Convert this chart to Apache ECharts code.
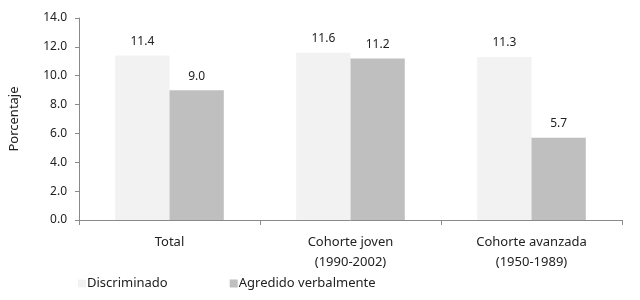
<!DOCTYPE html>
<html><head><meta charset="utf-8">
<script src="https://cdn.jsdelivr.net/npm/echarts@6/dist/echarts.min.js"></script>
<style>html,body{margin:0;padding:0;background:#fff}#c{width:640px;height:300px}</style>
</head><body><div id="c"></div>
<script>
var categories = ['Total', 'Cohorte joven\n(1990-2002)', 'Cohorte avanzada\n(1950-1989)'];
var discriminado = [11.4, 11.6, 11.3];
var agredido = [9.0, 11.2, 5.7];
var seriesNames = ['Discriminado', 'Agredido verbalmente'];
var FONT = 'Noto Sans';
var chart = echarts.init(document.getElementById('c'));
var lbl = {show: true, position: 'top', distance: 8, color: '#222', fontFamily: FONT, fontSize: 12,
  formatter: function(p){ return p.value.toFixed(1); }};
chart.setOption({
  animation: false,
  textStyle: {fontFamily: FONT},
  grid: {left: 76, right: 18, top: 18, bottom: 80},
  legend: {
    bottom: 5, left: 73, itemWidth: 8, itemHeight: 8, itemGap: 62, icon: 'rect',
    textStyle: {fontFamily: FONT, fontSize: 13, color: '#222', padding: [0,0,0,-4]},
    data: seriesNames
  },
  xAxis: {
    type: 'category', data: categories,
    axisLine: {lineStyle: {color: '#8a8a8a'}},
    axisTick: {show: true, length: 5, lineStyle: {color: '#8a8a8a'}},
    axisLabel: {color: '#222', fontFamily: FONT, fontSize: 13, lineHeight: 20, margin: 12}
  },
  yAxis: {
    type: 'value', min: 0, max: 14, interval: 2,
    name: 'Porcentaje', nameLocation: 'middle', nameGap: 58, nameRotate: 90,
    nameTextStyle: {color: '#222', fontFamily: FONT, fontSize: 13},
    axisLine: {show: true, lineStyle: {color: '#8a8a8a'}},
    axisTick: {show: true, length: 4, lineStyle: {color: '#8a8a8a'}},
    splitLine: {show: false},
    axisLabel: {color: '#222', fontFamily: FONT, fontSize: 12, margin: 12,
      formatter: function(v){ return v.toFixed(1); }}
  },
  series: [
    {name: seriesNames[0], type: 'bar', data: discriminado, barGap: '0%', barCategoryGap: '40%',
     itemStyle: {color: '#f2f2f2'}, label: lbl},
    {name: seriesNames[1], type: 'bar', data: agredido, barGap: '0%', barCategoryGap: '40%',
     itemStyle: {color: '#bfbfbf'}, label: lbl}
  ]
});
</script></body></html>
